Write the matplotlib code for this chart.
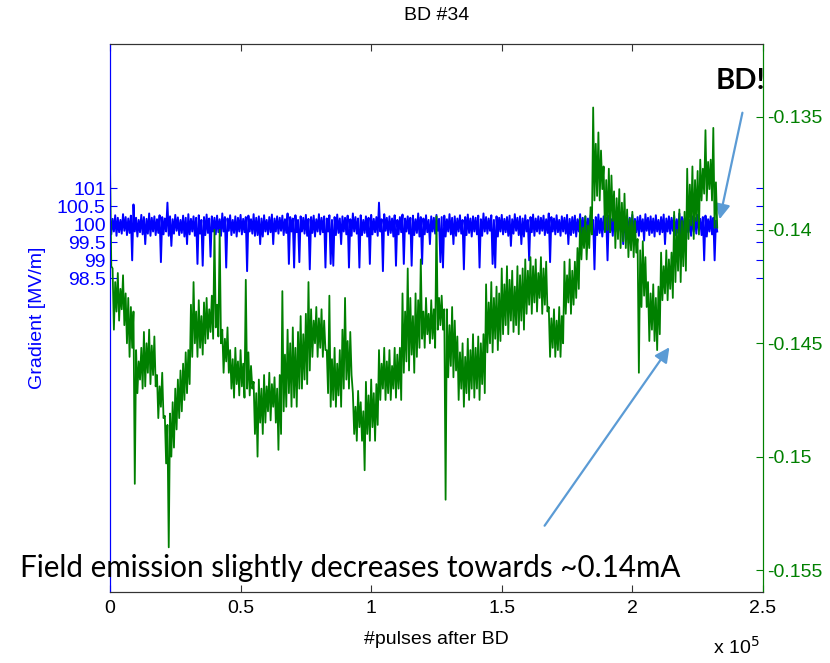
import numpy as np
import matplotlib
matplotlib.use('Agg')
from matplotlib import pyplot as plt

# field emission current in uA, read off the plot as the upper and lower
# edge of the noisy trace in every bin of 1000 pulses
green_hi = [
    -137.0, -141.7, -142.3, -141.9, -142.6, -142.0, -142.8, -143.0, -143.4, -143.6,
    -145.3, -145.8, -145.2, -144.5, -145.0, -144.4, -145.1, -144.7, -146.4, -146.9,
    -146.3, -148.2, -148.6, -148.1, -147.6, -147.0, -146.6, -146.2, -145.9, -145.4,
    -145.3, -143.3, -142.3, -143.6, -143.1, -143.8, -143.2, -143.0, -143.5, -142.9,
    -140.0, -143.3, -140.0, -144.4, -144.8, -144.3, -145.3, -145.7, -145.2, -145.8,
    -145.3, -145.9, -142.2, -145.4, -146.0, -146.7, -147.2, -146.6, -147.0, -146.4,
    -146.9, -146.3, -146.8, -146.5, -147.0, -146.4, -142.7, -145.5, -144.4, -145.0,
    -144.3, -145.2, -144.5, -143.8, -144.6, -143.7, -142.3, -143.5, -144.0, -143.4,
    -143.9, -143.5, -144.0, -145.3, -142.9, -145.7, -145.2, -145.9, -145.3, -144.4,
    -143.0, -144.9, -144.5, -147.2, -147.8, -147.1, -147.6, -148.0, -146.7, -147.3,
    -146.6, -147.2, -146.8, -145.3, -145.9, -145.2, -145.8, -145.3, -146.0, -145.2,
    -145.5, -145.2, -142.8, -143.6, -141.7, -143.0, -143.8, -142.8, -143.1, -141.3,
    -143.6, -143.0, -143.7, -143.1, -143.5, -139.4, -143.0, -142.9, -143.5, -143.5,
    -144.2, -143.4, -144.0, -144.7, -145.4, -145.0, -145.6, -144.8, -145.3, -144.6,
    -145.2, -144.7, -145.0, -144.6, -142.4, -143.2, -142.3, -143.0, -142.5, -142.8,
    -141.7, -142.4, -141.6, -142.2, -141.8, -142.5, -141.6, -142.0, -141.7, -141.3,
    -141.8, -141.2, -141.6, -141.3, -141.9, -141.2, -141.7, -141.4, -143.4, -143.9,
    -143.5, -144.0, -143.4, -143.8, -141.4, -142.0, -141.3, -141.8, -141.4, -140.8,
    -139.5, -139.9, -139.4, -139.8, -139.0, -134.6, -136.2, -135.7, -136.5, -137.2,
    -137.8, -137.3, -137.6, -138.3, -138.6, -138.2, -138.8, -138.4, -139.1, -139.5,
    -139.2, -139.6, -140.4, -140.9, -140.5, -141.2, -142.3, -142.8, -142.4, -143.0,
    -142.5, -141.0, -141.6, -140.9, -141.3, -141.0, -139.2, -140.0, -139.1, -139.6,
    -139.2, -137.3, -138.0, -137.2, -137.8, -137.4, -136.9, -137.3, -135.6, -137.0,
    -136.9, -135.5, -137.9,
]
green_lo = [
    -141.6, -144.4, -143.6, -144.0, -143.5, -144.2, -145.0, -145.6, -145.2, -151.2,
    -147.2, -146.6, -147.0, -146.9, -146.3, -146.8, -146.4, -146.9, -148.3, -147.8,
    -148.3, -150.3, -154.0, -150.0, -149.6, -148.8, -148.3, -148.0, -147.5, -147.2,
    -146.8, -145.6, -145.0, -145.6, -145.2, -145.5, -145.0, -144.8, -144.5, -144.8,
    -144.3, -144.7, -145.0, -146.3, -145.8, -146.3, -147.0, -147.4, -146.8, -147.3,
    -146.9, -147.4, -147.0, -147.3, -147.0, -149.0, -150.0, -148.5, -149.0, -148.5,
    -148.0, -148.4, -147.8, -148.5, -149.7, -149.0, -148.0, -147.8, -147.2, -147.8,
    -147.4, -147.8, -147.0, -147.0, -146.6, -146.8, -146.2, -145.6, -145.0, -145.6,
    -145.2, -145.6, -145.3, -147.2, -147.8, -147.5, -147.8, -147.3, -147.8, -147.0,
    -146.6, -147.0, -146.4, -149.0, -149.3, -148.7, -149.3, -150.6, -149.0, -149.3,
    -148.7, -149.3, -148.6, -147.5, -147.0, -147.5, -147.2, -147.5, -147.0, -147.4,
    -147.0, -147.5, -146.3, -145.8, -146.2, -145.5, -146.3, -145.6, -145.2, -144.8,
    -145.2, -144.6, -145.0, -144.8, -145.2, -144.4, -144.2, -144.4, -151.9, -146.5,
    -146.0, -146.5, -146.2, -147.5, -147.0, -147.8, -147.2, -147.5, -147.0, -147.4,
    -147.0, -147.5, -146.8, -147.2, -145.4, -145.0, -145.4, -144.8, -145.3, -144.9,
    -144.6, -144.2, -144.6, -144.0, -144.5, -144.2, -144.6, -144.0, -144.4, -143.7,
    -143.3, -143.7, -143.2, -143.6, -143.0, -143.7, -143.3, -143.6, -145.6, -145.2,
    -145.6, -145.3, -145.6, -145.0, -143.7, -143.2, -143.7, -143.3, -143.0, -142.6,
    -141.3, -140.8, -141.3, -140.8, -140.2, -138.7, -138.5, -138.7, -138.2, -140.1,
    -140.0, -140.1, -139.6, -140.8, -140.4, -140.8, -140.5, -140.8, -141.2, -140.9,
    -141.2, -141.0, -146.3, -143.4, -142.9, -143.4, -144.9, -144.4, -144.9, -145.3,
    -144.6, -143.1, -142.8, -143.1, -142.6, -143.0, -142.3, -141.8, -142.3, -141.6,
    -141.8, -140.4, -139.8, -140.4, -139.6, -140.2, -138.7, -138.4, -138.7, -138.2,
    -138.7, -139.9, -139.9,
]

# gradient in MV/m, same bins
gradient_hi = [
    100.22, 100.15, 100.25, 100.18, 100.12, 100.28, 100.20, 100.16, 100.24, 100.55,
    100.18, 100.12, 100.26, 100.20, 100.15, 100.30, 100.18, 100.22, 100.14, 100.25,
    100.20, 100.16, 100.60, 100.22, 100.14, 100.26, 100.19, 100.12, 100.24, 100.18,
    100.28, 100.15, 100.22, 100.18, 100.25, 100.12, 100.20, 100.27, 100.16, 100.22,
    100.18, 100.24, 100.14, 100.30, 100.20, 100.16, 100.25, 100.12, 100.22, 100.18,
    100.26, 100.15, 100.20, 100.24, 100.14, 100.28, 100.18, 100.22, 100.16, 100.25,
    100.12, 100.20, 100.27, 100.16, 100.22, 100.18, 100.24, 100.14, 100.30, 100.20,
    100.16, 100.25, 100.12, 100.22, 100.18, 100.26, 100.15, 100.20, 100.24, 100.14,
    100.28, 100.18, 100.22, 100.16, 100.25, 100.12, 100.20, 100.27, 100.16, 100.22,
    100.18, 100.24, 100.14, 100.30, 100.20, 100.16, 100.25, 100.12, 100.22, 100.18,
    100.26, 100.15, 100.20, 100.60, 100.14, 100.28, 100.18, 100.22, 100.16, 100.25,
    100.12, 100.20, 100.27, 100.16, 100.22, 100.18, 100.24, 100.14, 100.30, 100.20,
    100.16, 100.25, 100.12, 100.22, 100.18, 100.26, 100.15, 100.20, 100.24, 100.14,
    100.28, 100.18, 100.22, 100.16, 100.25, 100.12, 100.20, 100.27, 100.16, 100.22,
    100.18, 100.24, 100.14, 100.30, 100.20, 100.16, 100.25, 100.12, 100.22, 100.18,
    100.26, 100.15, 100.20, 100.24, 100.14, 100.28, 100.18, 100.22, 100.16, 100.25,
    100.12, 100.20, 100.27, 100.16, 100.22, 100.18, 100.24, 100.14, 100.30, 100.20,
    100.16, 100.25, 100.12, 100.22, 100.18, 100.26, 100.15, 100.20, 100.24, 100.14,
    100.28, 100.18, 100.22, 100.16, 100.25, 100.12, 100.20, 100.27, 100.16, 100.22,
    100.18, 100.24, 100.14, 100.30, 100.20, 100.16, 100.25, 100.12, 100.22, 100.18,
    100.26, 100.15, 100.20, 100.24, 100.14, 100.28, 100.18, 100.22, 100.16, 100.25,
    100.12, 100.20, 100.27, 100.16, 100.22, 100.18, 100.24, 100.14, 100.30, 100.20,
    100.16, 100.25, 100.12, 100.22, 100.18, 100.26, 100.15, 100.20, 100.24, 100.14,
    100.22, 100.18, 100.10,
]
gradient_lo = [
    99.72, 99.80, 99.68, 99.78, 99.74, 99.82, 99.70, 99.76, 99.00, 99.80,
    99.66, 99.78, 99.72, 99.45, 99.74, 99.68, 99.80, 99.70, 99.76, 98.95,
    99.72, 99.80, 99.68, 99.40, 99.74, 99.82, 99.70, 99.76, 99.66, 99.45,
    99.72, 99.80, 99.68, 98.90, 99.74, 98.85, 99.70, 99.76, 99.10, 99.80,
    99.72, 99.78, 99.68, 99.80, 98.80, 99.82, 99.70, 99.76, 99.66, 99.80,
    99.72, 99.78, 98.70, 99.80, 99.74, 99.68, 99.70, 99.45, 99.66, 99.80,
    99.72, 99.78, 99.45, 99.80, 99.74, 99.82, 99.70, 99.76, 98.90, 99.80,
    98.80, 99.78, 98.95, 99.80, 99.74, 99.68, 98.75, 99.76, 99.66, 99.80,
    99.72, 99.78, 98.80, 99.80, 98.90, 98.85, 99.70, 99.76, 99.45, 99.80,
    99.72, 98.80, 99.68, 99.80, 99.74, 98.80, 99.70, 99.76, 99.66, 98.90,
    99.72, 99.78, 99.68, 99.80, 98.70, 99.82, 99.70, 99.76, 99.66, 98.85,
    99.72, 99.78, 98.90, 99.80, 99.74, 98.85, 99.70, 99.76, 99.66, 98.90,
    99.72, 99.78, 99.45, 99.80, 99.74, 99.82, 98.95, 98.80, 99.66, 99.80,
    99.72, 99.45, 99.68, 99.80, 99.74, 98.75, 99.70, 99.76, 99.66, 99.80,
    99.72, 98.80, 99.68, 99.80, 99.74, 99.82, 98.90, 98.80, 99.66, 99.80,
    99.72, 99.78, 99.68, 99.40, 99.74, 99.82, 99.70, 99.45, 99.66, 99.80,
    99.00, 99.78, 99.68, 99.80, 99.74, 99.82, 99.70, 99.76, 98.95, 99.80,
    99.72, 99.78, 99.68, 99.80, 99.74, 99.45, 99.70, 99.76, 99.66, 99.80,
    99.72, 99.78, 99.68, 99.80, 99.74, 98.75, 99.70, 99.76, 99.66, 99.80,
    99.00, 99.78, 99.68, 99.80, 99.74, 99.82, 99.45, 99.76, 99.66, 99.80,
    99.72, 99.78, 99.68, 99.80, 99.55, 99.82, 99.70, 99.76, 99.66, 99.80,
    99.72, 99.78, 99.45, 99.80, 99.74, 99.82, 99.70, 99.76, 99.66, 99.80,
    99.45, 99.78, 99.68, 99.80, 99.74, 99.82, 99.70, 99.00, 99.66, 99.80,
    99.72, 99.00, 99.80,
]

bin_pulses = 1000
xtick_vals = [0, 50000, 100000, 150000, 200000, 250000]
xtick_labels = ['0', '0.5', '1', '1.5', '2', '2.5']
left_ticks = [98.5, 99, 99.5, 100, 100.5, 101]
right_ticks = [-0.155, -0.15, -0.145, -0.14, -0.135]

blue = (0, 0, 1)
green = (0, 0.5, 0)
arrow_col = '#5B9BD5'

plt.rcParams['font.family'] = ['Liberation Sans', 'DejaVu Sans']
plt.rcParams['axes.unicode_minus'] = False


def interleave(hi, lo):
    # hi/lo edge of each bin, drawn one after the other
    y = np.column_stack([hi, lo]).ravel()
    x = np.arange(len(y)) * (bin_pulses / 2)
    return x, y


xb, grad = interleave(gradient_hi, gradient_lo)
xg, cur = interleave(green_hi, green_lo)
cur = cur / 1000.0   # uA -> mA

fig = plt.figure(figsize=(8.3, 6.63), dpi=100)
ax1 = fig.add_axes([0.1325, 0.1071, 0.7867, 0.8265])
ax2 = ax1.twinx()

ax1.plot(xb, grad, color=blue, lw=1.4)
ax2.plot(xg, cur, color=green, lw=1.3)

ax1.set_xlim(0, 250000)
ax1.set_ylim(89.8, 105.0)
ax2.set_ylim(-0.15597, -0.1318)

ax1.set_xticks(xtick_vals)
ax1.set_xticklabels(xtick_labels, fontsize=14)
ax1.set_yticks(left_ticks)
ax1.set_yticklabels([('%g' % t) for t in left_ticks], fontsize=14, color=blue)
ax2.set_yticks(right_ticks)
ax2.set_yticklabels([('%g' % t) for t in right_ticks], fontsize=14, color=green)

ax1.tick_params(axis='x', direction='in', top=True, length=5, color='#333333', pad=6)
ax1.tick_params(axis='y', direction='in', right=True, length=5, color=blue, pad=3)
ax2.tick_params(axis='y', direction='in', length=5, color=green, pad=3)

for ax in (ax1, ax2):
    ax.spines['top'].set_color('#333333')
    ax.spines['bottom'].set_color('#333333')
    ax.spines['left'].set_color(blue)
    ax.spines['right'].set_color(green)

ax1.set_ylabel('Gradient [MV/m]', color=blue, fontsize=14, labelpad=8)
ax1.set_xlabel('#pulses after BD', fontsize=14, labelpad=10)
ax1.set_title('BD #34', fontsize=14, pad=17)
fig.text(0.915, 0.008, 'x 10$^5$', fontsize=14, ha='right', va='bottom')

ax1.annotate('', xy=(719, 441), xytext=(743, 553),
             xycoords='figure pixels', textcoords='figure pixels',
             arrowprops=dict(arrowstyle='-|>', color=arrow_col, lw=1.6, mutation_scale=22))
ax1.annotate('', xy=(671, 318), xytext=(543, 135),
             xycoords='figure pixels', textcoords='figure pixels',
             arrowprops=dict(arrowstyle='-|>', color=arrow_col, lw=1.6, mutation_scale=22))

fig.text(740 / 830, 1 - 81 / 663, 'BD!', fontsize=21, fontweight='bold',
         family=['Lato', 'DejaVu Sans'], ha='center', va='center')
fig.text(20 / 830, 1 - 577 / 663, 'Field emission slightly decreases towards ~0.14mA',
         fontsize=21.3, family=['Lato', 'DejaVu Sans'], ha='left', va='baseline')

plt.savefig('out.png', dpi=100)
